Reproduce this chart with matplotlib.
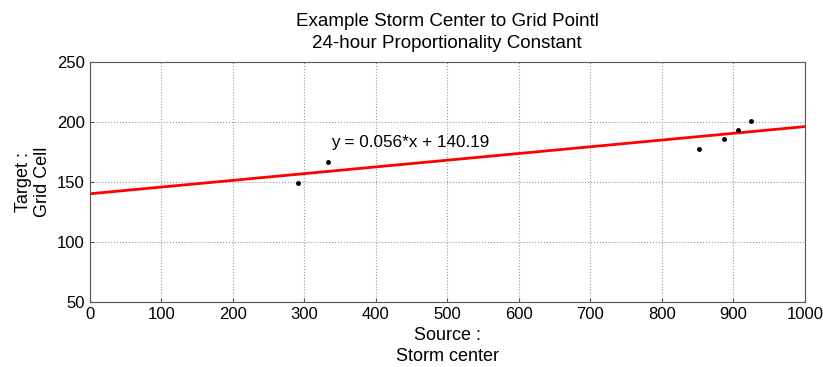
import matplotlib
matplotlib.use("Agg")
import matplotlib.pyplot as plt
import numpy as np

# data
source = [291, 333, 852, 887, 906, 924]
target = [149.2, 166.7, 177.5, 185.8, 193.3, 200.8]
slope = 0.056
intercept = 140.19
x_ticks = list(range(0, 1001, 100))
y_ticks = list(range(50, 251, 50))

plt.rcParams['font.family'] = ['Liberation Sans', 'DejaVu Sans']

fig = plt.figure(figsize=(8.23, 3.67), dpi=100)
ax = fig.add_axes([0.109, 0.177, 0.869, 0.654])

x_line = np.array([0, 1000])
ax.plot(x_line, slope * x_line + intercept, color='red', lw=2)
ax.plot(source, target, 'k.', markersize=5)

ax.text(337, 183, "y = %.3f*x + %.2f" % (slope, intercept), fontsize=12.3,
        ha='left', va='center')

ax.set_xlim(0, 1000)
ax.set_ylim(50, 250)
ax.set_xticks(x_ticks)
ax.set_yticks(y_ticks)
ax.tick_params(labelsize=12, direction='in', length=3, color='#555555')
ax.grid(True, linestyle=':', color='#999999', lw=0.8)
for s in ax.spines.values():
    s.set_color('#555555')
    s.set_linewidth(0.8)

ax.set_title("Example Storm Center to Grid Pointl\n24-hour Proportionality Constant",
             fontsize=13.5, pad=10, linespacing=1.4)
ax.set_xlabel("Source :\nStorm center", fontsize=13, labelpad=4, linespacing=1.25)
ax.set_ylabel("Target :\nGrid Cell", fontsize=13, labelpad=4)

fig.savefig("out.png", dpi=100)
